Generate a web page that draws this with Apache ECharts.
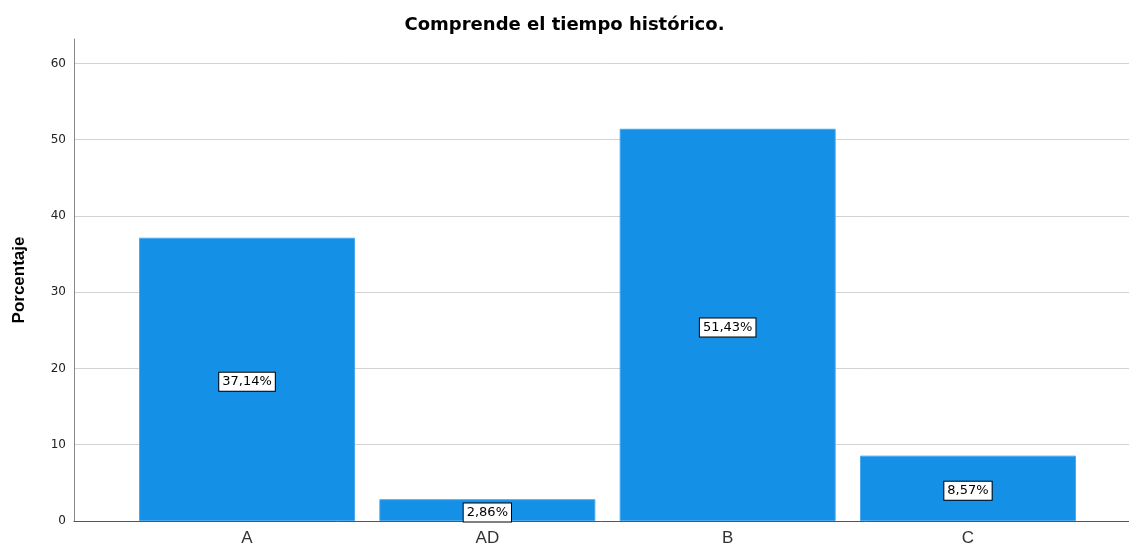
<!DOCTYPE html>
<html>
<head>
<meta charset="utf-8">
<title>Comprende el tiempo histórico.</title>
<script src="https://cdn.jsdelivr.net/npm/echarts@6/dist/echarts.min.js"></script>
<style>
  html, body { margin: 0; padding: 0; background: #fff; }
  #chart { width: 1129px; height: 548px; }
</style>
</head>
<body>
<div id="chart"></div>
<script>
// datos
var categories = ['A', 'AD', 'B', 'C'];
var percentages = [37.14, 2.86, 51.43, 8.57];
var yTicks = [0, 10, 20, 30, 40, 50, 60];

var chart = echarts.init(document.getElementById('chart'));

// x como eje de valores para poder dejar los margenes asimetricos de SPSS
var barData = [];
for (var i = 0; i < categories.length; i++) {
  barData.push([i, percentages[i]]);
}

// linea de rejilla: oculta la del maximo (63.2)
var gridColors = [];
for (var j = 0; j < yTicks.length; j++) {
  gridColors.push('#d2d2d2');
}
gridColors.push('rgba(0,0,0,0)');

var option = {
  animation: false,
  title: {
    text: 'Comprende el tiempo histórico.',
    left: 'center',
    top: 11,
    textStyle: {
      fontFamily: 'DejaVu Sans, Verdana, sans-serif',
      fontSize: 18,
      fontWeight: 'bold',
      color: '#000'
    }
  },
  grid: {
    left: 74,
    right: 0,
    top: 39,
    bottom: 27,
    containLabel: false
  },
  xAxis: {
    type: 'value',
    min: -0.72,
    max: 3.67,
    axisLine: { show: true, onZero: false, lineStyle: { color: '#555', width: 1 } },
    axisTick: { show: false },
    splitLine: { show: false },
    axisLabel: {
      customValues: [0, 1, 2, 3],
      formatter: function (v) { return categories[Math.round(v)]; },
      fontFamily: 'Liberation Sans, Arial, sans-serif',
      fontSize: 17,
      color: '#333',
      margin: 9
    }
  },
  yAxis: {
    type: 'value',
    min: 0,
    max: 63.2,
    interval: 10,
    name: 'Porcentaje',
    nameLocation: 'middle',
    nameGap: 46,
    nameRotate: 90,
    nameTextStyle: {
      fontFamily: 'Liberation Sans Narrow, Arial Narrow, Liberation Sans, sans-serif',
      fontSize: 17,
      fontWeight: 'bold',
      color: '#000'
    },
    axisLine: { show: true, onZero: false, lineStyle: { color: '#888', width: 1 } },
    axisTick: { show: false },
    axisLabel: {
      formatter: function (v) { return v % 10 === 0 ? String(v) : ''; },
      fontFamily: 'DejaVu Sans, Verdana, sans-serif',
      fontSize: 12,
      color: '#222',
      margin: 8
    },
    splitLine: { show: true, lineStyle: { color: gridColors, width: 1 } }
  },
  series: [{
    type: 'bar',
    data: barData,
    barWidth: 216,
    itemStyle: {
      color: '#1490e6',
      borderColor: '#4aa8ee',
      borderWidth: 1
    },
    label: {
      show: true,
      position: 'inside',
      offset: [0, 2.5],
      formatter: function (p) {
        return p.value[1].toFixed(2).replace('.', ',') + '%';
      },
      fontFamily: 'DejaVu Sans, Verdana, sans-serif',
      fontSize: 13,
      color: '#000',
      backgroundColor: '#fff',
      borderColor: '#000',
      borderWidth: 1,
      padding: [3, 3, 2, 3]
    }
  }]
};

chart.setOption(option);
</script>
</body>
</html>
